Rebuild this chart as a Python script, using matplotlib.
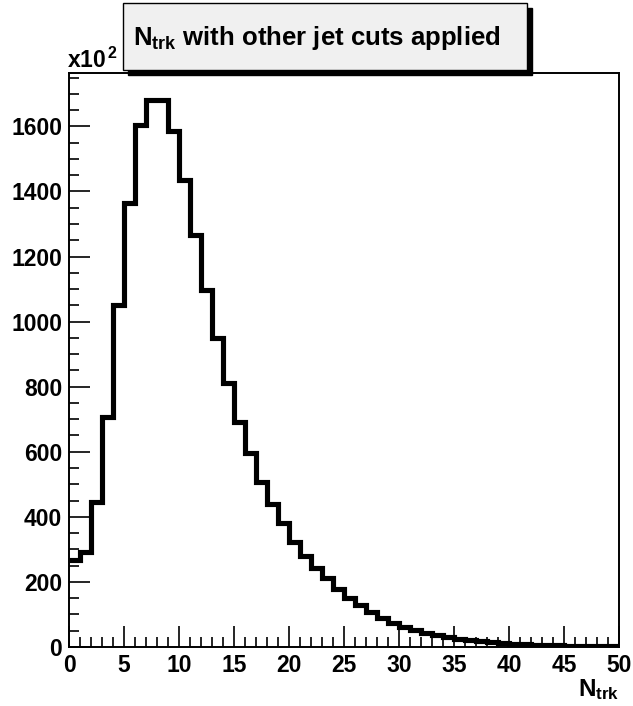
import numpy as np
import matplotlib
matplotlib.use("Agg")
import matplotlib.pyplot as plt
from matplotlib.patches import Rectangle
from matplotlib.ticker import MultipleLocator

plt.rcParams["font.family"] = ["Liberation Sans", "DejaVu Sans"]
plt.rcParams["font.weight"] = "bold"
plt.rcParams["mathtext.fontset"] = "custom"
plt.rcParams["mathtext.rm"] = "Liberation Sans:bold"
plt.rcParams["mathtext.bf"] = "Liberation Sans:bold"
plt.rcParams["mathtext.it"] = "Liberation Sans:bold"

# N_trk histogram, 50 bins of width 1, counts in units of 10^2
bin_edges = np.arange(0, 51, 1)
counts = [
    267, 293, 446, 707, 1050, 1363, 1603, 1680, 1680, 1587,
    1434, 1265, 1096, 949, 811, 691, 596, 507, 439, 381,
    322, 280, 242, 212, 178, 150, 129, 107, 88, 74,
    62, 52, 43, 36, 30, 25, 21, 17, 14, 12,
    10, 8, 7, 6, 5, 4, 3, 3, 2, 2,
]
title = r"$\mathbf{N_{trk}}$ with other jet cuts applied"
xlabel = r"$\mathbf{N_{trk}}$"

W, H = 633, 706
fig = plt.figure(figsize=(W / 100, H / 100), dpi=100)
ax = fig.add_axes([69 / W, 1 - 647 / H, 550 / W, 574 / H])

ax.stairs(counts, bin_edges, baseline=None, color="black", linewidth=3.7)

ax.set_xlim(0, 50)
ax.set_ylim(0, 1.05 * max(counts))

# ROOT-like ticks: inside, left/bottom only
ax.xaxis.set_major_locator(MultipleLocator(5))
ax.xaxis.set_minor_locator(MultipleLocator(1))
ax.yaxis.set_major_locator(MultipleLocator(200))
ax.yaxis.set_minor_locator(MultipleLocator(50))
ax.tick_params(which="both", direction="in", top=False, right=False,
               width=1.2, labelsize=16.5)
ax.tick_params(axis="y", pad=5)
ax.tick_params(axis="x", pad=5)
ax.tick_params(which="major", length=15)
ax.tick_params(which="minor", length=7.5)
for lab in ax.get_xticklabels() + ax.get_yticklabels():
    lab.set_fontweight("bold")
for sp in ax.spines.values():
    sp.set_linewidth(1.4)

fig.text(67 / W, 1 - 68 / H, r"x10$^{\,2}$", fontsize=16.5, fontweight="bold",
         ha="left", va="baseline")
fig.text(619 / W, 1 - 696 / H, xlabel, fontsize=17.5, ha="right", va="baseline")

# title box with shadow
bx0, by0, bx1, by1 = 123, 3, 527, 70
fig.patches.append(Rectangle(((bx0 + 5) / W, 1 - (by1 + 5) / H),
                             (bx1 - bx0) / W, (by1 - by0) / H,
                             transform=fig.transFigure, facecolor="black",
                             edgecolor="black", zorder=1))
fig.patches.append(Rectangle((bx0 / W, 1 - by1 / H),
                             (bx1 - bx0) / W, (by1 - by0) / H,
                             transform=fig.transFigure, facecolor="#f0f0f0",
                             edgecolor="black", linewidth=1.0, zorder=2))
fig.text(133 / W, 1 - 45 / H, title, fontsize=18.5, ha="left", va="baseline",
         zorder=3)

fig.savefig("out.png", dpi=100)
